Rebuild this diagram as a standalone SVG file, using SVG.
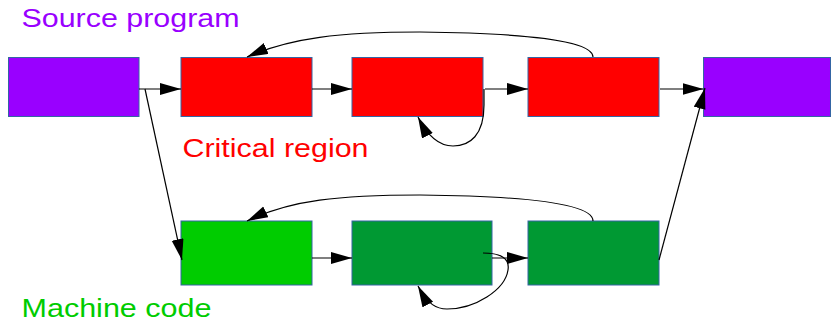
<svg xmlns="http://www.w3.org/2000/svg" width="831" height="320" viewBox="0 0 831 320">
  <style>
    .box { stroke: #3465a4; stroke-width: 1; }
    .src { fill: #9900ff; }
    .crit { fill: #ff0000; }
    .mc1 { fill: #00cc00; }
    .mc2 { fill: #009933; }
    .edge { fill: none; stroke: #000000; stroke-width: 1.2; marker-end: url(#arrow); }
    .label { font-family: "Liberation Sans", Arial, sans-serif; font-size: 26px; }
  </style>
  <defs>
    <marker id="arrow" markerUnits="userSpaceOnUse" markerWidth="22" markerHeight="13" refX="21" refY="6" orient="auto">
      <path d="M0,0 L21,6 L0,12 Z" fill="#000000"/>
    </marker>
  </defs>

  <rect width="831" height="320" fill="#ffffff"/>

  <!-- labels -->
  <text class="label" x="21.5" y="27" fill="#9900ff" textLength="218" lengthAdjust="spacingAndGlyphs">Source program</text>
  <text class="label" x="182.5" y="157" fill="#ff0000" textLength="186" lengthAdjust="spacingAndGlyphs">Critical region</text>
  <text class="label" x="21.5" y="317" fill="#00cc00" textLength="190" lengthAdjust="spacingAndGlyphs">Machine code</text>

  <!-- source program -->
  <g id="src-in"><rect class="box src" x="8.5" y="57.5" width="130.5" height="59"/></g>
  <!-- critical region -->
  <g id="crit-1"><rect class="box crit" x="181" y="57.5" width="131" height="59"/></g>
  <g id="crit-2"><rect class="box crit" x="352" y="57.5" width="131" height="59"/></g>
  <g id="crit-3"><rect class="box crit" x="528" y="57.5" width="131" height="59"/></g>
  <g id="src-out"><rect class="box src" x="703.5" y="57.5" width="127" height="59"/></g>
  <!-- machine code -->
  <g id="mc-1"><rect class="box mc1" x="181" y="221" width="131" height="64"/></g>
  <g id="mc-2"><rect class="box mc2" x="352" y="221" width="140" height="64"/></g>
  <g id="mc-3"><rect class="box mc2" x="528" y="221" width="131" height="64"/></g>

  <!-- connectors -->
  <g id="connectors">
    <path class="edge" d="M139,89 H181"/>
    <path class="edge" d="M312,89 H352"/>
    <path class="edge" d="M485,89 H528"/>
    <path class="edge" d="M660,89 H703.5"/>
    <path class="edge" d="M484,89 V105 C484,135 470,146 453,146 C440,146 428,137 418,117"/>
    <path class="edge" d="M593,57 C593,40 520,33 420,32 C340,32 290,38 247,57"/>
    <path class="edge" d="M145,89 L182,260"/>
    <path class="edge" d="M312,258 H352"/>
    <path class="edge" d="M492,258 H528"/>
    <path class="edge" d="M483,253 C500,253 510,258 508,270 C505,290 475,309 447,309 C437,309 428,305 418,286"/>
    <path class="edge" d="M593,221 C593,203 520,196 420,195 C340,195 290,200 247,221"/>
    <path class="edge" d="M659,260 L705,88"/>
  </g>
</svg>
